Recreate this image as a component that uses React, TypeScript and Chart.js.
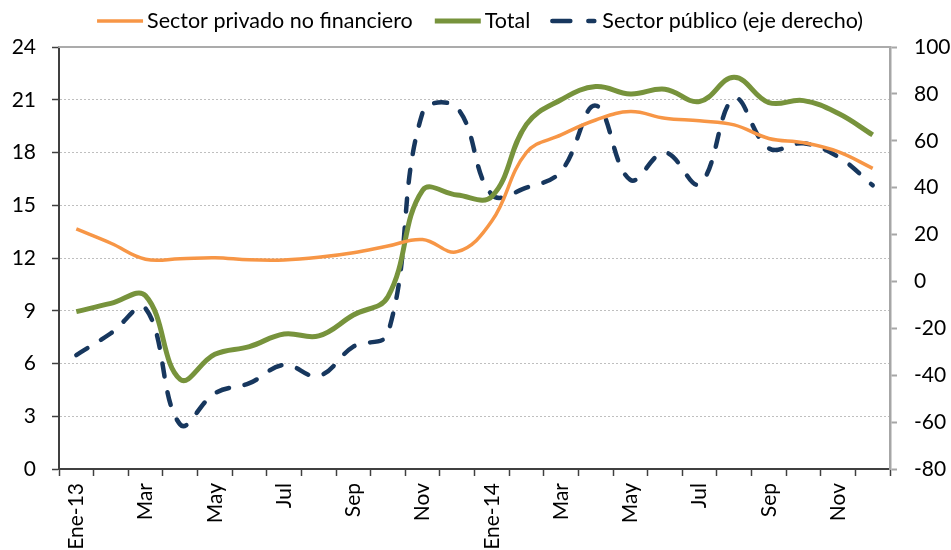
import React, { useEffect, useRef } from "react";
import { Chart, registerables } from "chart.js";

Chart.register(...registerables);

const categories = [
  "Ene-13", "Feb", "Mar", "Abr", "May", "Jun", "Jul", "Ago", "Sep", "Oct", "Nov", "Dic",
  "Ene-14", "Feb", "Mar", "Abr", "May", "Jun", "Jul", "Ago", "Sep", "Oct", "Nov", "Dic",
];

const privado = [
  13.65, 12.84, 11.93, 11.96, 12.02, 11.9, 11.89, 12.04, 12.3, 12.68, 13.05, 12.36,
  14.1, 18.0, 19.0, 19.85, 20.33, 19.95, 19.8, 19.57, 18.8, 18.56, 18.05, 17.1,
];

const total = [
  8.95, 9.42, 9.85, 5.1, 6.52, 6.96, 7.68, 7.57, 8.76, 9.8, 15.85, 15.58,
  15.5, 19.6, 21.0, 21.75, 21.33, 21.6, 20.9, 22.28, 20.84, 20.95, 20.23, 19.0,
];

const publico = [
  -31.4, -22.1, -11.5, -61, -47.7, -43.4, -35.6, -40.3, -27.8, -22.1, 72, 74,
  37, 40, 47, 75, 43.3, 55, 41.6, 78, 56.8, 58.9, 53.2, 41,
];

const leftTicks = { min: 0, max: 24, step: 3 };
const rightTicks = { min: -80, max: 100, step: 20 };

const seriesNames = [
  "Sector privado no financiero",
  "Total",
  "Sector público (eje derecho)",
];

const ORANGE = "#F79646";
const GREEN = "#77933C";
const NAVY = "#17375E";
const FONT = "Lato";
const TICK_SIZE = 21;

const legendPlugin = {
  id: "customLegend",
  afterDraw(chart: any) {
    const ctx = chart.ctx as CanvasRenderingContext2D;
    ctx.save();
    ctx.font = `21.5px ${FONT}`;
    ctx.textBaseline = "middle";
    ctx.fillStyle = "#000";
    const items = [
      { text: seriesNames[0], color: ORANGE, width: 3.5, dash: [] as number[] },
      { text: seriesNames[1], color: GREEN, width: 5, dash: [] as number[] },
      { text: seriesNames[2], color: NAVY, width: 4.5, dash: [18, 18] },
    ];
    const lineLen = 46;
    const gapLT = 4;
    const gapItem = 22;
    const widths = items.map((it) => ctx.measureText(it.text).width);
    let totalW = 0;
    items.forEach((it, i) => {
      totalW += lineLen + gapLT + widths[i];
    });
    totalW += gapItem * (items.length - 1);
    let x = 480 - totalW / 2;
    const y = 21;
    items.forEach((it, i) => {
      ctx.beginPath();
      ctx.setLineDash(it.dash);
      ctx.lineCap = it.dash.length ? "round" : "butt";
      ctx.strokeStyle = it.color;
      ctx.lineWidth = it.width;
      ctx.moveTo(x, y);
      ctx.lineTo(x + lineLen - (it.dash.length ? 4 : 0), y);
      ctx.stroke();
      ctx.setLineDash([]);
      x += lineLen + gapLT;
      ctx.fillText(it.text, x, y);
      x += widths[i] + gapItem;
    });
    // top border of plot area
    const a = chart.chartArea;
    ctx.beginPath();
    ctx.strokeStyle = "#ABABAB";
    ctx.lineWidth = 2;
    ctx.moveTo(a.left, a.top);
    ctx.lineTo(a.right, a.top);
    ctx.stroke();
    ctx.restore();
  },
};

export default function App() {
  const ref = useRef<HTMLCanvasElement>(null);

  useEffect(() => {
    if (!ref.current) return;
    const chart = new Chart(ref.current, {
      type: "line",
      data: {
        labels: categories,
        datasets: [
          {
            label: seriesNames[0],
            data: privado,
            borderColor: ORANGE,
            backgroundColor: ORANGE,
            borderWidth: 3.5,
            pointRadius: 0,
            tension: 0.4,
            yAxisID: "y",
          },
          {
            label: seriesNames[1],
            data: total,
            borderColor: GREEN,
            backgroundColor: GREEN,
            borderWidth: 5,
            pointRadius: 0,
            tension: 0.4,
            yAxisID: "y",
          },
          {
            label: seriesNames[2],
            data: publico,
            borderColor: NAVY,
            backgroundColor: NAVY,
            borderWidth: 4.5,
            borderDash: [13, 16],
            borderCapStyle: "round",
            pointRadius: 0,
            tension: 0.4,
            yAxisID: "y1",
          },
        ],
      },
      options: {
        animation: false,
        responsive: false,
        maintainAspectRatio: false,
        layout: { padding: { top: 47, left: 0, right: 0, bottom: 0 } },
        plugins: {
          legend: { display: false },
          tooltip: { enabled: false },
          title: { display: false },
        },
        scales: {
          x: {
            type: "category",
            offset: true,
            grid: {
              offset: true,
              drawOnChartArea: false,
              drawTicks: true,
              tickLength: 7,
              tickColor: "#404040",
              tickWidth: 1.5,
            },
            border: { display: true, color: "#404040", width: 2 },
            ticks: {
              autoSkip: false,
              maxRotation: 90,
              minRotation: 90,
              padding: 7,
              color: "#000",
              font: { family: FONT, size: TICK_SIZE },
              callback: (_v: any, i: number) => (i % 2 === 0 ? categories[i] : ""),
            },
            afterFit: (scale: any) => {
              scale.height = 81;
            },
          },
          y: {
            type: "linear",
            position: "left",
            min: leftTicks.min,
            max: leftTicks.max,
            ticks: {
              stepSize: leftTicks.step,
              color: "#000",
              padding: 16,
              font: { family: FONT, size: TICK_SIZE },
            },
            grid: {
              color: (c: any) =>
                c.tick && (c.tick.value === leftTicks.min || c.tick.value === leftTicks.max)
                  ? "rgba(0,0,0,0)"
                  : "#BFBFBF",
              lineWidth: 1,
              tickLength: 7,
              tickColor: "#404040",
              tickWidth: 1.5,
              tickBorderDash: [],
            },
            border: { display: true, color: "#404040", width: 2, dash: [2, 2] },
            afterFit: (scale: any) => {
              scale.width = 59;
            },
          },
          y1: {
            type: "linear",
            position: "right",
            min: rightTicks.min,
            max: rightTicks.max,
            ticks: {
              stepSize: rightTicks.step,
              color: "#000",
              padding: 17,
              font: { family: FONT, size: TICK_SIZE },
            },
            grid: {
              drawOnChartArea: false,
              tickLength: 7,
              tickColor: "#A6A6A6",
              tickWidth: 2,
            },
            border: { display: true, color: "#A6A6A6", width: 2.5 },
            afterFit: (scale: any) => {
              scale.width = 61;
            },
          },
        },
      },
      plugins: [legendPlugin],
    } as any);
    return () => chart.destroy();
  }, []);

  return (
    <div style={{ position: "fixed", left: 0, top: 0, width: 951, height: 550, background: "#fff" }}>
      <canvas ref={ref} width={951} height={550} style={{ display: "block" }} />
    </div>
  );
}
